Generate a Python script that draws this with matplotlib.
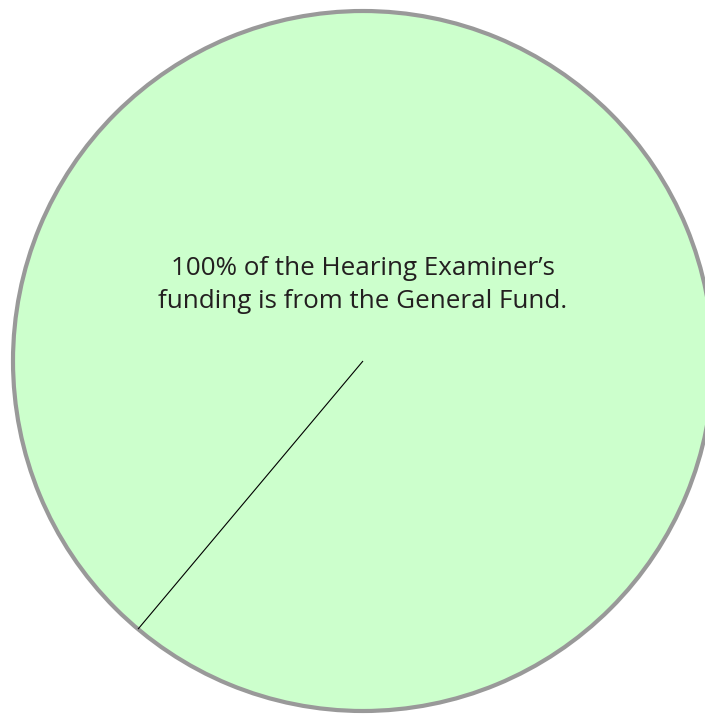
#!/usr/bin/env python3
"""Single-slice funding pie: Hearing Examiner, 100% General Fund."""

import numpy as np
import matplotlib
matplotlib.use("Agg")
import matplotlib.pyplot as plt

# data
sources = ["General Fund"]
shares = [100]
start_angle = 230  # degrees, where the slice boundary sits
caption = "100% of the Hearing Examiner\u2019s\nfunding is from the General Fund."

FILL = "#ccffcc"
EDGE = "#999999"
TEXT = "#231f20"

W, H = 705, 716
center = (363, H - 361)
radius = 350

fig = plt.figure(figsize=(W / 100, H / 100), dpi=100)
ax = fig.add_axes([0, 0, 1, 1])

ax.pie(
    shares,
    labels=None,
    colors=[FILL],
    startangle=start_angle,
    counterclock=True,
    center=center,
    radius=radius,
    wedgeprops={"edgecolor": EDGE, "linewidth": 3.0},
)

# boundary line of the single slice, from the centre out to the rim
theta = np.deg2rad(start_angle)
ax.plot(
    [center[0], center[0] + radius * np.cos(theta)],
    [center[1], center[1] + radius * np.sin(theta)],
    color="black",
    lw=0.8,
    solid_capstyle="butt",
)

ax.text(
    center[0],
    H - 285,
    caption,
    ha="center",
    va="center",
    fontsize=18.7,
    family=["Open Sans", "DejaVu Sans"],
    color=TEXT,
    linespacing=1.4,
)

ax.set_xlim(0, W)
ax.set_ylim(0, H)
ax.set_aspect("equal")
ax.axis("off")

fig.savefig("out.png", dpi=100, facecolor="white")
